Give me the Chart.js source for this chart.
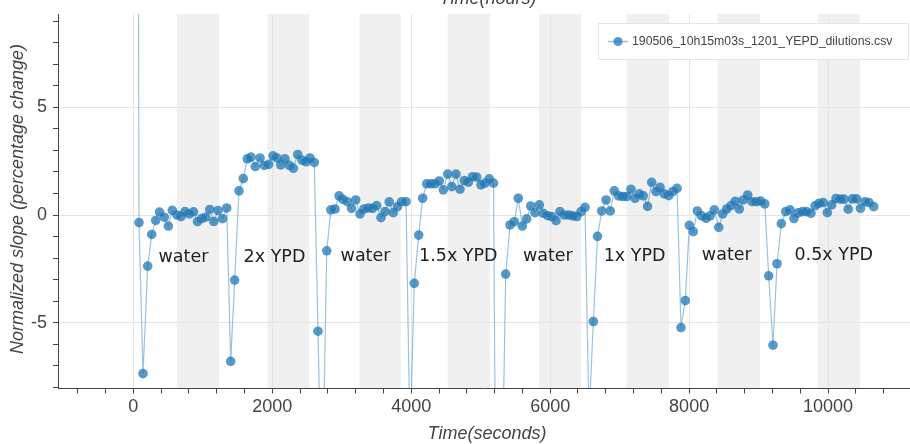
<!DOCTYPE html>
<html>
<head>
<meta charset="utf-8">
<script src="https://cdn.jsdelivr.net/npm/chart.js@4.4.1/dist/chart.umd.min.js"></script>
<style>
  html, body { margin: 0; padding: 0; background: #fff; }
  canvas { display: block; }
</style>
</head>
<body>
<canvas id="grafica" width="910" height="444"></canvas>
<script>
// tiempos (s) y pendiente normalizada (%)
const tiempos = [
  // water
  24, 82, 140, 207, 265, 322, 377, 446, 504, 561, 629, 687, 744, 806, 866, 924, 984, 1042, 1100, 1159, 1219, 1284, 1344,
  // 2x YPD
  1402, 1459, 1521, 1583, 1641, 1694, 1756, 1824, 1885, 1949, 2011, 2068, 2122, 2183, 2245, 2303, 2366, 2428, 2486, 2543, 2605, 2658, 2716,
  // water
  2784, 2843, 2903, 2961, 3018, 3079, 3141, 3201, 3263, 3320, 3382, 3443, 3503, 3565, 3623, 3683, 3742, 3803, 3863, 3925, 3983,
  // 1.5x YPD
  4044, 4108, 4165, 4223, 4285, 4342, 4404, 4462, 4525, 4583, 4645, 4702, 4764, 4822, 4882, 4943, 5004, 5062, 5124, 5184, 5242, 5301,
  // water
  5360, 5422, 5484, 5541, 5599, 5662, 5720, 5782, 5844, 5901, 5964, 6022, 6084, 6141, 6203, 6267, 6324, 6382, 6444, 6501, 6559,
  // 1x YPD
  6621, 6681, 6742, 6804, 6865, 6923, 6986, 7044, 7101, 7163, 7221, 7283, 7340, 7401, 7461, 7523, 7581, 7643, 7706, 7764, 7826,
  // water
  7883, 7945, 8003, 8060, 8118, 8181, 8243, 8300, 8362, 8426, 8483, 8541, 8603, 8665, 8722, 8780, 8843, 8905, 8967, 9029, 9089,
  // 0.5x YPD
  9145, 9207, 9265, 9327, 9390, 9452, 9509, 9567, 9632, 9689, 9754, 9812, 9869, 9931, 9989, 10052, 10114, 10176, 10229, 10290, 10350, 10409, 10467, 10531, 10589, 10657
];
const pendientes = [
  80, -0.35, -7.36, -2.37, -0.9, -0.25, 0.14, -0.1, -0.51, 0.22, 0.0, -0.07, 0.16, 0.05, 0.15, -0.31, -0.16, -0.1, 0.26, -0.3, 0.21, -0.17, 0.33,
  -6.79, -3.02, 1.12, 1.69, 2.61, 2.69, 2.25, 2.65, 2.3, 2.35, 2.75, 2.65, 2.33, 2.61, 2.31, 2.17, 2.81, 2.55, 2.47, 2.65, 2.44, -5.39, -14,
  -1.66, 0.24, 0.28, 0.89, 0.73, 0.62, 0.31, 0.7, 0.05, 0.28, 0.33, 0.31, 0.44, -0.12, 0.16, 0.61, 0.11, 0.39, 0.62, 0.62, -10.5,
  -3.17, -0.93, 0.78, 1.45, 1.45, 1.45, 1.58, 1.17, 1.9, 1.32, 1.9, 1.2, 1.6, 1.52, 1.78, 1.76, 1.4, 1.48, 1.68, 1.48, -25, -14,
  -2.74, -0.46, -0.31, 0.78, -0.51, -0.18, 0.42, 0.11, 0.47, 0.08, -0.03, -0.07, -0.26, 0.16, 0.0, 0.0, -0.04, -0.07, 0.16, 0.36, -9.5,
  -4.94, -0.99, 0.19, 0.7, 0.19, 1.12, 0.89, 0.86, 0.86, 1.2, 0.78, 0.98, 0.89, 0.4, 1.52, 1.09, 1.29, 0.98, 0.9, 1.09, 1.24,
  -5.22, -3.97, -0.48, -0.77, 0.19, -0.04, -0.15, -0.04, 0.24, -0.57, 0.05, 0.28, 0.44, 0.64, 0.28, 0.7, 0.93, 0.62, 0.62, 0.65, 0.52,
  -2.82, -6.04, -2.26, -0.4, 0.16, 0.24, -0.16, 0.1, 0.16, 0.16, 0.08, 0.43, 0.54, 0.58, 0.11, 0.47, 0.77, 0.74, 0.74, 0.27, 0.75, 0.75, 0.31, 0.62, 0.58, 0.39
];

// franjas grises (inicio, fin en segundos)
const franjasInicio = [625, 1929, 3253, 4525, 5839, 7101, 8411, 9851];
const franjasFin = [1233, 2533, 3849, 5134, 6448, 7710, 9020, 10459];

// etiquetas de cada fase
const etiquetas = ['water', '2x YPD', 'water', '1.5x YPD', 'water', '1x YPD', 'water', '0.5x YPD'];
const etiquetasX = [722, 2032, 3342, 4678, 5966, 7214, 8542, 10081];
const etiquetasY = [-2.2, -2.2, -2.13, -2.13, -2.13, -2.13, -2.1, -2.07];

// ticks
const ticksX = [0, 2000, 4000, 6000, 8000, 10000];
const ticksY = [-5, 0, 5];

const nombreSerie = '190506_10h15m03s_1201_YEPD_dilutions.csv';
const colorPunto = 'rgba(31,119,180,0.75)';
const colorLinea = 'rgba(31,119,180,0.45)';
const fuente = "'Liberation Sans', Arial, sans-serif";

let puntos = tiempos.map(function (t, i) { return { x: t, y: pendientes[i] }; });

// fondo blanco + franjas, antes de la rejilla
const franjas = {
    id: 'franjas',
    beforeDraw(chart) {
        const { ctx, chartArea: { top, bottom, left, right }, scales: { x } } = chart;
        ctx.save();
        ctx.fillStyle = '#ffffff';
        ctx.fillRect(0, 0, chart.width, chart.height);
        ctx.beginPath();
        ctx.rect(left, top, right - left, bottom - top);
        ctx.clip();
        ctx.fillStyle = '#f0f0f0';
        for (let i = 0; i < franjasInicio.length; i++) {
            const x0 = x.getPixelForValue(franjasInicio[i]);
            const x1 = x.getPixelForValue(franjasFin[i]);
            ctx.fillRect(x0, top, x1 - x0, bottom - top);
        }
        ctx.restore();
    }
};

// textos, titulos de ejes y leyenda
const textos = {
    id: 'textos',
    afterDraw(chart) {
        const { ctx, scales: { x, y } } = chart;
        ctx.save();
        ctx.fillStyle = '#222';
        ctx.font = "17.5px 'DejaVu Sans', sans-serif";
        ctx.textAlign = 'center';
        ctx.textBaseline = 'alphabetic';
        for (let i = 0; i < etiquetas.length; i++) {
            ctx.fillText(etiquetas[i], x.getPixelForValue(etiquetasX[i]), y.getPixelForValue(etiquetasY[i]));
        }

        ctx.fillStyle = '#444';
        ctx.font = 'italic 18px ' + fuente;
        ctx.textBaseline = 'middle';
        ctx.fillText('Time(seconds)', 487, 434);
        ctx.textBaseline = 'alphabetic';
        ctx.fillText('Time(hours)', 488, 4);

        ctx.save();
        ctx.translate(18, 199);
        ctx.rotate(-Math.PI / 2);
        ctx.textBaseline = 'middle';
        ctx.fillText('Normalized slope (percentage change)', 0, 0);
        ctx.restore();

        // leyenda
        ctx.fillStyle = '#ffffff';
        ctx.fillRect(598.5, 23.5, 310, 36);
        ctx.strokeStyle = '#e5e5e5';
        ctx.lineWidth = 1;
        ctx.strokeRect(598.5, 23.5, 310, 36);
        ctx.strokeStyle = colorLinea;
        ctx.lineWidth = 1.5;
        ctx.beginPath();
        ctx.moveTo(608, 41.5);
        ctx.lineTo(628, 41.5);
        ctx.stroke();
        ctx.fillStyle = colorPunto;
        ctx.beginPath();
        ctx.arc(618, 41.5, 4.6, 0, Math.PI * 2);
        ctx.fill();
        ctx.fillStyle = '#444';
        ctx.font = '12.3px ' + fuente;
        ctx.textAlign = 'left';
        ctx.textBaseline = 'middle';
        ctx.fillText(nombreSerie, 632, 42);
        ctx.restore();
    }
};

let opciones = {
    responsive: false,
    animation: false,
    devicePixelRatio: 1,
    layout: { autoPadding: false, padding: { top: 14, right: 0, left: 0, bottom: 0 } },
    plugins: {
        legend: { display: false },
        tooltip: { enabled: false }
    },
    scales: {
        x: {
            type: 'linear',
            min: -1084,
            max: 11179,
            afterBuildTicks(scale) {
                const t = [];
                for (let v = Math.ceil(scale.min / 400) * 400; v <= scale.max; v += 400) t.push({ value: v });
                scale.ticks = t;
            },
            afterFit(scale) {
                scale.height = 55.5;
                scale.paddingLeft = 0; scale.paddingRight = 0; scale.paddingTop = 0; scale.paddingBottom = 0;
            },
            ticks: {
                autoSkip: false,
                maxRotation: 0,
                padding: 3,
                color: '#444',
                font: { family: fuente, size: 18 },
                callback: function (value) { return ticksX.includes(value) ? String(value) : ''; }
            },
            grid: {
                color: function (c) { return c.tick && ticksX.includes(c.tick.value) ? '#e5e5e5' : 'rgba(0,0,0,0)'; },
                tickColor: '#444',
                tickLength: 5
            },
            border: { display: true, color: '#444', width: 1 }
        },
        y: {
            type: 'linear',
            min: -8.05,
            max: 9.33,
            afterBuildTicks(scale) {
                const t = [];
                for (let v = Math.ceil(scale.min); v <= scale.max; v += 1) t.push({ value: v });
                scale.ticks = t;
            },
            afterFit(scale) {
                scale.width = 58;
                scale.paddingLeft = 0; scale.paddingRight = 0; scale.paddingTop = 0; scale.paddingBottom = 0;
            },
            ticks: {
                autoSkip: false,
                padding: 6,
                color: '#444',
                font: { family: fuente, size: 18 },
                callback: function (value) { return ticksY.includes(value) ? String(value) : ''; }
            },
            grid: {
                color: function (c) { return c.tick && ticksY.includes(c.tick.value) ? '#e5e5e5' : 'rgba(0,0,0,0)'; },
                tickColor: '#444',
                tickLength: 5
            },
            border: { display: true, color: '#444', width: 1 }
        }
    }
};

let miGrafica = new Chart(document.getElementById('grafica'), {
    type: 'line',
    data: {
        datasets: [{
            label: nombreSerie,
            data: puntos,
            borderColor: colorLinea,
            borderWidth: 1.2,
            pointRadius: 4.8,
            pointBackgroundColor: colorPunto,
            pointBorderColor: colorPunto,
            pointBorderWidth: 0,
            tension: 0,
            fill: false
        }]
    },
    options: opciones,
    plugins: [franjas, textos]
});
</script>
</body>
</html>
